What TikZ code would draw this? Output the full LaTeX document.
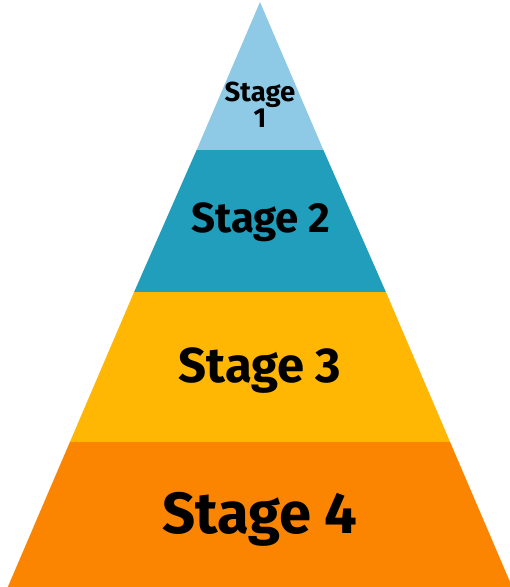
\documentclass[tikz,border=0pt]{standalone}
\usepackage{fontspec}
\setmainfont{Fira Sans}
\definecolor{sone}{HTML}{8ECAE6}
\definecolor{stwo}{HTML}{219EBC}
\definecolor{sthree}{HTML}{FFB703}
\definecolor{sfour}{HTML}{FB8500}
\begin{document}
\begin{tikzpicture}[x=1pt,y=-1pt,
  band/.style={draw=none},
  lbl/.style={anchor=base,inner sep=0pt,font=\bfseries,text=black}]
\useasboundingbox (0,0) rectangle (510,587);
\begin{scope}
\clip (0,0) rectangle (510,587);
% apex (260,2), half slope 0.428
\fill[sone] (260,2) -- (323.4,150) -- (196.6,150) -- cycle;
\fill[stwo] (196.6,150) -- (323.4,150) -- (385.9,292) -- (134.1,292) -- cycle;
\fill[sthree] (134.1,292) -- (385.9,292) -- (450.1,442) -- (69.9,442) -- cycle;
\fill[sfour] (69.9,442) -- (450.1,442) -- (512.2,587) -- (7.8,587) -- cycle;
\end{scope}
\node[lbl,font=\bfseries\fontsize{27.5}{24}\selectfont,align=center] (s1) at (260,127) {Stage\\1};
\node[lbl,font=\bfseries\fontsize{42}{50}\selectfont] (s2) at (261,232) {Stage 2};
\node[lbl,font=\bfseries\fontsize{49}{58}\selectfont] (s3) at (260,382) {Stage 3};
\node[lbl,font=\bfseries\fontsize{58}{70}\selectfont] (s4) at (260,533) {Stage 4};
\end{tikzpicture}
\end{document}
